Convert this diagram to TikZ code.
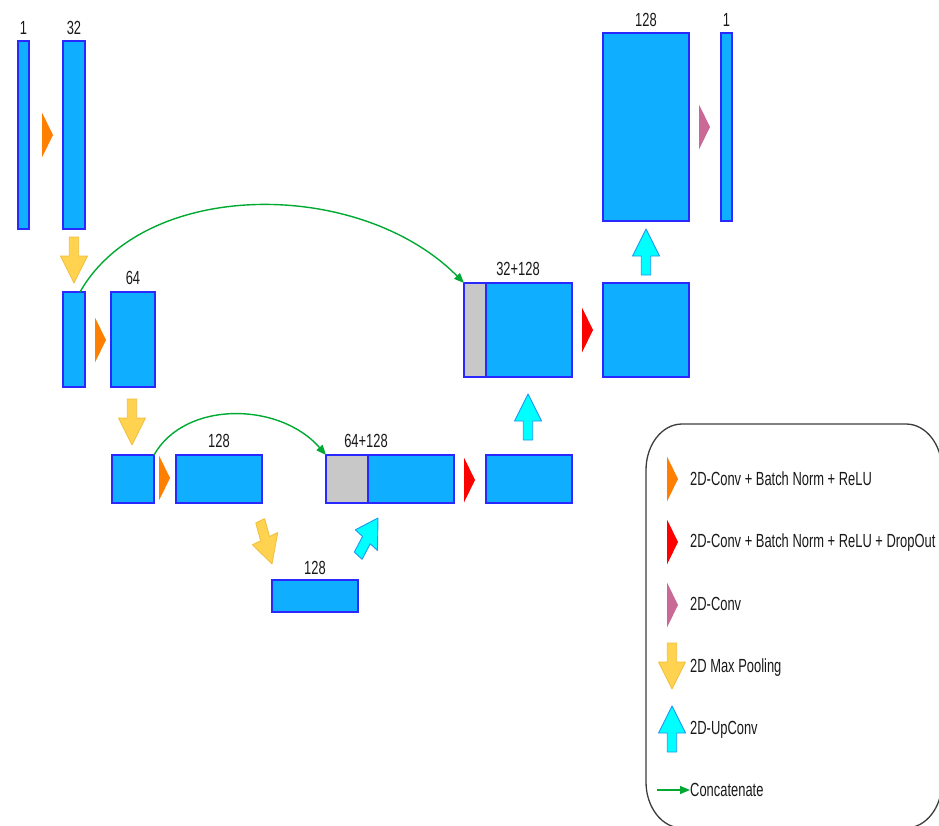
\documentclass[tikz,border=0pt]{standalone}
\usepackage{fontspec}
\setmainfont{Liberation Sans}[FakeStretch=0.68]
\usetikzlibrary{arrows.meta}

\definecolor{fmap}{RGB}{16,174,255}
\definecolor{fmapedge}{RGB}{40,40,255}
\definecolor{skipgray}{RGB}{200,200,200}
\definecolor{convorange}{RGB}{255,128,0}
\definecolor{convred}{RGB}{255,0,0}
\definecolor{convpink}{RGB}{200,105,150}
\definecolor{poolyellow}{RGB}{255,210,80}
\definecolor{pooledge}{RGB}{240,190,60}
\definecolor{upcyan}{RGB}{0,255,255}
\definecolor{upedge}{RGB}{30,150,240}
\definecolor{concatgreen}{RGB}{0,170,50}
\definecolor{legendframe}{RGB}{60,60,60}
\definecolor{textdark}{RGB}{25,25,25}

\tikzset{
  fmapbox/.style={draw=fmapedge, fill=fmap, line width=1.2pt, inner sep=0pt, outer sep=0pt, anchor=north west},
  skipbox/.style={fmapbox, fill=skipgray},
  lbl/.style={inner sep=0pt, text height=13pt, text depth=0pt, text=textdark, font=\fontsize{19}{22}\selectfont},
  legtext/.style={lbl, anchor=west},
  concat/.style={draw=concatgreen, line width=1.4pt, -{Triangle[length=10pt,width=8pt]}},
  % conv marker: left edge centred on the placement point
  convtri/.pic={\path[pic actions] (0,-22.5) -- (11,0) -- (0,22.5) -- cycle;},
  % block arrow: tip at the placement point, tail 46 units behind it
  blockarrow/.pic={\path[pic actions] (0,0) -- (18,27) -- (6.3,27) -- (6.3,46) -- (-6.3,46) -- (-6.3,27) -- (-18,27) -- cycle;},
  pool/.style={fill=poolyellow, draw=pooledge, line width=0.8pt, line join=round, xscale=0.75},
  upconv/.style={fill=upcyan, draw=upedge, line width=0.9pt, line join=round, xscale=0.75},
}

\begin{document}
\begin{tikzpicture}[x=1pt, y=-1pt]
\useasboundingbox (0,0) rectangle (939,825);

% encoder
\node[fmapbox, minimum width=11pt, minimum height=188pt] (in) at (18,41) {};
\node[fmapbox, minimum width=22pt, minimum height=188pt] (e1) at (63,41) {};
\node[fmapbox, minimum width=22pt, minimum height=95pt] (e2a) at (63,292) {};
\node[fmapbox, minimum width=44pt, minimum height=95pt] (e2b) at (111,292) {};
\node[fmapbox, minimum width=42pt, minimum height=48pt] (e3a) at (112,455) {};
\node[fmapbox, minimum width=86pt, minimum height=48pt] (e3b) at (176,455) {};
\node[fmapbox, minimum width=86pt, minimum height=32pt] (bott) at (272,580) {};

% decoder
\node[skipbox, minimum width=42pt, minimum height=48pt] (d3g) at (326,455) {};
\node[fmapbox, minimum width=86pt, minimum height=48pt] (d3b) at (368,455) {};
\node[fmapbox, minimum width=86pt, minimum height=48pt] (d3c) at (486,455) {};
\node[skipbox, minimum width=22pt, minimum height=94pt] (d2g) at (464,283) {};
\node[fmapbox, minimum width=86pt, minimum height=94pt] (d2b) at (486,283) {};
\node[fmapbox, minimum width=86pt, minimum height=94pt] (d2c) at (603,283) {};
\node[fmapbox, minimum width=86pt, minimum height=188pt] (d1) at (603,33) {};
\node[fmapbox, minimum width=11pt, minimum height=188pt] (out) at (721,33) {};

% channel counts
\node[lbl] (lin) at ([yshift=13pt]in.north) {1};
\node[lbl] (le1) at ([yshift=13pt]e1.north) {32};
\node[lbl] (le2) at ([yshift=14pt]e2b.north) {64};
\node[lbl] (le3) at ([yshift=14pt]e3b.north) {128};
\node[lbl] (lbt) at ([yshift=12pt]bott.north) {128};
\node[lbl] (ld3) at ([yshift=14pt,xshift=-2pt]d3b.north west) {64+128};
\node[lbl] (ld2) at ([yshift=14pt,xshift=32pt]d2b.north west) {32+128};
\node[lbl] (ld1) at ([yshift=13pt]d1.north) {128};
\node[lbl] (lout) at ([yshift=13pt]out.north) {1};

% convolutions
\pic[fill=convorange] at (42,135) {convtri};
\pic[fill=convorange] at (95,340) {convtri};
\pic[fill=convorange] at (159,478) {convtri};
\pic[fill=convred] at (464,480) {convtri};
\pic[fill=convred] at (582,330) {convtri};
\pic[fill=convpink] at (699,127) {convtri};

% pooling and up-convolutions
\pic[pool, rotate=180] at (74,283) {blockarrow};
\pic[pool, rotate=180] at (132,445) {blockarrow};
\pic[pool, rotate=200] at (272,564) {blockarrow};
\pic[upconv, rotate=-35] at (378,518) {blockarrow};
\pic[upconv] at (528,394) {blockarrow};
\pic[upconv] at (646,229) {blockarrow};

% skip connections
\draw[concat] ([xshift=-5pt]e2a.north east) .. controls (145,178) and (360,178) .. (d2g.north west);
\draw[concat] (e3a.north east) .. controls (185,400) and (280,402) .. (d3g.north west);

% legend frame with elliptical corners
\draw[legendframe, line width=1.3pt]
  (646,470) .. controls (646,444.6) and (662.1,424) .. (682,424)
  -- (906,424) .. controls (925.9,424) and (942,444.6) .. (942,470)
  -- (942,782) .. controls (942,807.4) and (925.9,828) .. (906,828)
  -- (682,828) .. controls (662.1,828) and (646,807.4) .. (646,782) -- cycle;

% legend entries
\pic[fill=convorange] at (667,479) {convtri};
\node[legtext] (t1) at (690,479) {2D-Conv + Batch Norm + ReLU};
\pic[fill=convred] at (667,542) {convtri};
\node[legtext] (t2) at (690,541) {2D-Conv + Batch Norm + ReLU + DropOut};
\pic[fill=convpink] at (667,605) {convtri};
\node[legtext] (t3) at (690,604) {2D-Conv};
\pic[pool, rotate=180] at (672,689) {blockarrow};
\node[legtext] (t4) at (690,666) {2D Max Pooling};
\pic[upconv] at (672,706) {blockarrow};
\node[legtext] (t5) at (690,728) {2D-UpConv};
\coordinate (lg) at (657,790);
\node[legtext] (t6) at (690,790) {Concatenate};
\draw[concat] (lg) -- (t6.west);
\end{tikzpicture}
\end{document}
